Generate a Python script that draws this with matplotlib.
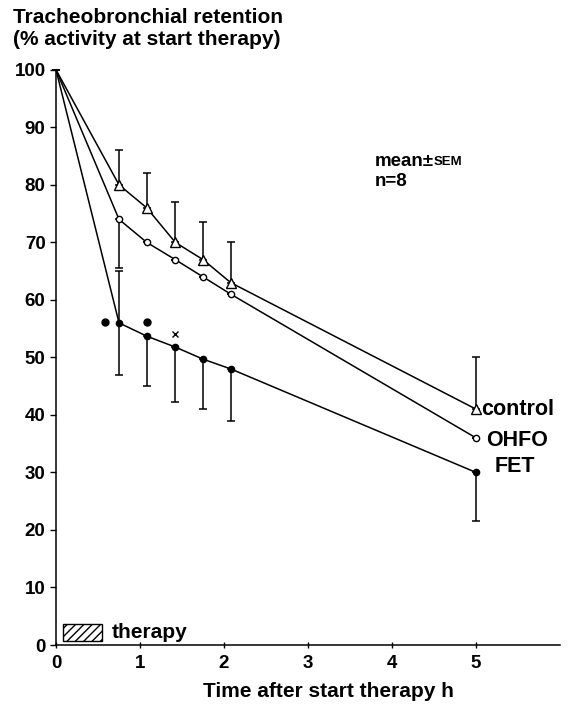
import matplotlib.pyplot as plt

plt.rcParams['font.family'] = ['Liberation Sans', 'DejaVu Sans']
plt.rcParams['font.weight'] = 'bold'

# times (h) after start of therapy
time = [0, 0.75, 1.08, 1.42, 1.75, 2.08, 5.0]

control = [100, 80, 76, 70, 67, 63, 41]
control_up = [0, 6, 6, 7, 6.5, 7, 9]

ohfo = [100, 74, 70, 67, 64, 61, 36]
ohfo_lo = [0, 8.5, 0, 0, 0, 0, 0]

fet = [100, 56, 53.7, 51.8, 49.7, 48, 30]
fet_lo = [0, 9, 8.7, 9.5, 8.7, 9, 8.5]
fet_up = [0, 9, 0, 0, 0, 0, 0]

# significance markers
sig_dot_x = [0.58, 1.08]
sig_dot_y = [56.2, 56.2]
sig_x_x = [1.42]
sig_x_y = [54]

fig = plt.figure(figsize=(5.8, 7.04), dpi=100)
ax = fig.add_axes([0.0966, 0.0838, 0.869, 0.817])

lw = 1.1
ax.errorbar(time, control, yerr=[[0] * 7, control_up], fmt='none', ecolor='black',
            elinewidth=lw, capsize=3, capthick=lw, clip_on=False)
ax.errorbar(time, ohfo, yerr=[ohfo_lo, [0] * 7], fmt='none', ecolor='black',
            elinewidth=lw, capsize=3, capthick=lw, clip_on=False)
ax.errorbar(time, fet, yerr=[fet_lo, fet_up], fmt='none', ecolor='black',
            elinewidth=lw, capsize=3, capthick=lw, clip_on=False)

mk = list(range(1, len(time)))
ax.plot(time, control, color='black', lw=lw, marker='^', ms=7, mfc='white',
        mec='black', mew=1.0, markevery=mk, clip_on=False, zorder=3)
ax.plot(time, ohfo, color='black', lw=lw, marker='o', ms=4.5, mfc='white',
        mec='black', mew=1.0, markevery=mk, clip_on=False, zorder=3)
ax.plot(time, fet, color='black', lw=lw, marker='o', ms=4.5, mfc='black',
        mec='black', markevery=mk, clip_on=False, zorder=3)

ax.plot(sig_dot_x, sig_dot_y, 'o', color='black', ms=5)
ax.plot(sig_x_x, sig_x_y, 'x', color='black', ms=4, mew=1.0)

ax.text(5.06, control[-1], 'control', fontsize=15.5, va='center', ha='left')
ax.text(5.12, ohfo[-1] - 0.5, 'OHFO', fontsize=15.5, va='center', ha='left')
ax.text(5.22, fet[-1] + 1, 'FET', fontsize=15.5, va='center', ha='left')

ax.text(3.8, 84, 'mean±', fontsize=13.5, va='center', ha='left')
ax.text(4.5, 84, 'SEM', fontsize=9.5, va='center', ha='left')
ax.text(3.8, 80.5, 'n=8', fontsize=13.5, va='center', ha='left')

# therapy hatch box
ax.add_patch(plt.Rectangle((0.08, 0.7), 0.47, 2.9, facecolor='white',
                           edgecolor='black', hatch='////', lw=1.0))
ax.text(0.66, 2.2, 'therapy', fontsize=15, va='center', ha='left')

ax.set_xlim(0, 6)
ax.set_ylim(0, 100)
ax.set_xticks(range(6))
ax.set_yticks(range(0, 101, 10))
ax.tick_params(labelsize=13.5, width=1.0, length=4, direction='out')
ax.tick_params(axis='x', direction='inout', length=5, pad=5)
for lab in ax.get_xticklabels() + ax.get_yticklabels():
    lab.set_fontweight('bold')
ax.spines['top'].set_visible(False)
ax.spines['right'].set_visible(False)
ax.spines['left'].set_linewidth(1.1)
ax.spines['bottom'].set_linewidth(1.1)

ax.set_xlabel('Time after start therapy h', fontsize=15, fontweight='bold')
ax.xaxis.set_label_coords(0.54, -0.065)

fig.text(0.022, 0.988, 'Tracheobronchial retention\n(% activity at start therapy)',
         fontsize=15, fontweight='bold', va='top', ha='left', linespacing=1.15)

plt.savefig('out.png', dpi=100)
plt.close()
